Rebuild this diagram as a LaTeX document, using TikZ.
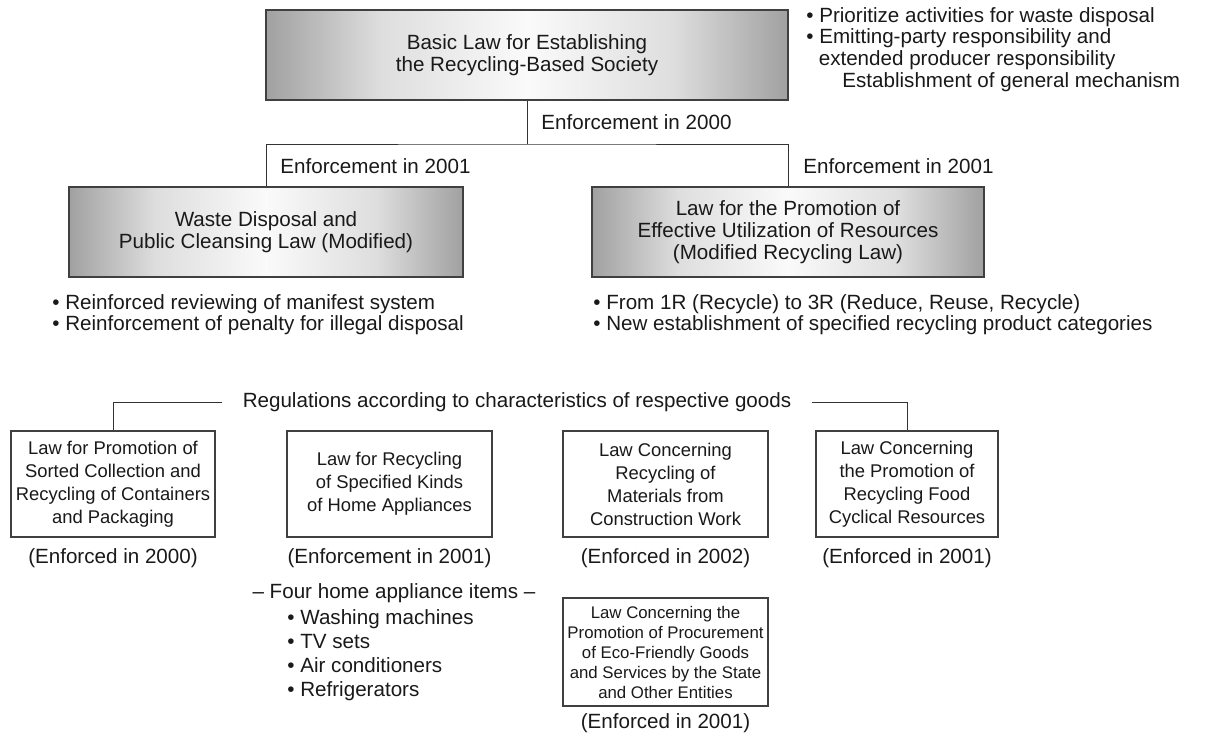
\documentclass[tikz,border=0pt]{standalone}
\usepackage{fontspec}
\setmainfont{Liberation Sans}
\usetikzlibrary{positioning}

\pgfdeclarehorizontalshading{boxglow}{100bp}{color(0bp)=(black!37); color(25bp)=(black!37); color(36bp)=(black!13); color(50bp)=(black!2); color(64bp)=(black!13); color(75bp)=(black!37); color(100bp)=(black!37)}

\tikzset{
  every node/.style={text=black!90},
  lawbox/.style={draw=black!75, line width=0.6pt, align=center, inner sep=1pt},
  mainlaw/.style={lawbox, minimum height=45pt, shade, shading=boxglow, font=\fontsize{10.3}{11}\selectfont},
  sublaw/.style={lawbox, fill=white, minimum height=53pt, font=\fontsize{9.2}{11.5}\selectfont},
  note/.style={align=left, inner sep=0pt, anchor=north west, font=\fontsize{10.3}{10.8}\selectfont},
  tag/.style={inner sep=0pt, font=\fontsize{10.3}{11}\selectfont},
  link/.style={draw=black!80, line width=0.5pt}
}

\begin{document}
\begin{tikzpicture}[x=0.5pt, y=-0.5pt]
			\useasboundingbox (0,0) rectangle (1205,740);
			
			% Main laws (shaded boxes)
			\node[mainlaw, minimum width=261pt] (basic) at (527,55) {Basic Law for Establishing\\the Recycling-Based Society};
			\node[mainlaw, minimum width=197pt] (waste) at (266,232) {Waste Disposal and\\Public Cleansing Law (Modified)};
			\node[mainlaw, minimum width=196pt] (promo) at (788,232) {Law for the Promotion of\\Effective Utilization of Resources\\(Modified Recycling Law)};
			
			% Tree below the basic law
			\coordinate (split) at (527,144);
			\draw[link] (basic) -- (split);
			\draw[link] (waste) |- (split) -| (promo);
			
			% Enforcement labels
			\node[tag, anchor=west] (enfbasic) at (541,122) {Enforcement in 2000};
			\node[tag, anchor=west] (enfwaste) at (280,166) {Enforcement in 2001};
			\node[tag, anchor=west] (enfpromo) at (803,166) {Enforcement in 2001};
			
			% Notes beside and below the main laws
			\node[note] (aims) at (806,7) {• Prioritize activities for waste disposal\\• Emitting-party responsibility and\\\hspace*{6.2pt}extended producer responsibility\\\hspace*{18pt}Establishment of general mechanism};
			\node[note] (wastenotes) at (52,294) {• Reinforced reviewing of manifest system\\• Reinforcement of penalty for illegal disposal};
			\node[note] (promonotes) at (593,294) {• From 1R (Recycle) to 3R (Reduce, Reuse, Recycle)\\• New establishment of specified recycling product categories};
			
			% Individual laws
			\node[tag, inner xsep=10pt] (regs) at (517,402) {Regulations according to characteristics of respective goods};
			\node[sublaw, minimum width=102pt] (pack) at (113,484) {Law for Promotion of\\Sorted Collection and\\Recycling of Containers\\and Packaging};
			\node[sublaw, minimum width=102.5pt] (appl) at (389.5,484) {Law for Recycling\\of Specified Kinds\\of Home Appliances};
			\node[sublaw, minimum width=102.5pt] (constr) at (665.5,484) {Law Concerning\\Recycling of\\Materials from\\Construction Work};
			\node[sublaw, minimum width=91pt] (food) at (907,484) {Law Concerning\\the Promotion of\\Recycling Food\\Cyclical Resources};
			\draw[link] (regs.west) -| (pack);
			\draw[link] (regs.east) -| (food);
			
			% Dates
			\node[tag] (packdate) at (113,558) {(Enforced in 2000)};
			\node[tag] (appldate) at (389.5,558) {(Enforcement in 2001)};
			\node[tag] (constrdate) at (665.5,558) {(Enforced in 2002)};
			\node[tag] (fooddate) at (907,558) {(Enforced in 2001)};
			
			% Home appliance items
			\node[tag] (items) at (394,593) {-- Four home appliance items --};
			\node[note, font=\fontsize{10.3}{12}\selectfont] (itemlist) at (287,609) {• Washing machines\\• TV sets\\• Air conditioners\\• Refrigerators};
			
			% Green purchasing law
			\node[sublaw, minimum width=102.5pt, minimum height=54pt, font=\fontsize{8.4}{10}\selectfont] (green) at (665.5,652) {Law Concerning the\\Promotion of Procurement\\of Eco-Friendly Goods\\and Services by the State\\and Other Entities};
			\node[tag] (greendate) at (665.5,723) {(Enforced in 2001)};
		\end{tikzpicture}
\end{document}
